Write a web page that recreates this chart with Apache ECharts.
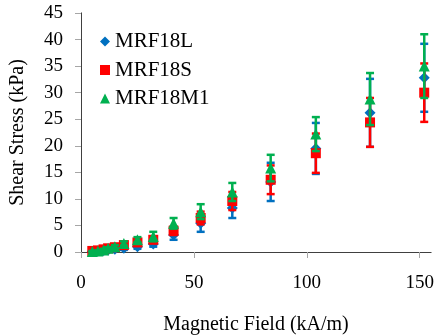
<!DOCTYPE html>
<html>
<head>
<meta charset="utf-8">
<script src="https://cdn.jsdelivr.net/npm/echarts@6/dist/echarts.min.js"></script>
<style>html,body{margin:0;padding:0;background:#fff}#c{width:434px;height:335px}</style>
</head>
<body>
<div id="c"></div>
<script>
var fieldX = [5, 7.5, 10, 12, 15, 19, 25, 32, 41, 53, 67, 84, 104, 128, 152];
var seriesNames = ['MRF18L', 'MRF18S', 'MRF18M1'];
var stressL = [0.1, 0.2, 0.3, 0.4, 0.5, 0.7, 1.0, 1.5, 3.2, 5.4, 8.3, 13.2, 19.5, 26.2, 32.8];
var errL    = [0.1, 0.1, 0.1, 0.2, 0.2, 0.3, 0.4, 0.5, 0.9, 1.6, 1.9, 3.6, 4.8, 6.4, 6.4];
var stressS = [0.2, 0.3, 0.5, 0.7, 0.9, 1.3, 1.8, 2.3, 4.0, 6.4, 9.6, 13.6, 18.6, 24.4, 30.0];
var errS    = [0.1, 0.1, 0.2, 0.2, 0.3, 0.4, 0.5, 0.6, 0.8, 1.2, 1.7, 2.7, 3.7, 4.6, 5.5];
var stressM = [0.1, 0.2, 0.4, 0.7, 1.0, 1.6, 2.3, 2.9, 5.4, 7.6, 11.3, 15.8, 22.2, 28.8, 35.0];
var errM    = [0.1, 0.1, 0.2, 0.2, 0.3, 0.4, 0.5, 0.9, 1.0, 1.4, 1.7, 2.5, 3.2, 4.9, 6.0];
var xTicks = [0, 50, 100, 150];

var colors = ['#0070C0', '#FF0000', '#00B050'];
var symbols = ['diamond', 'rect', 'triangle'];
var symSizes = [11, 10, 11];
var ys = [stressL, stressS, stressM];
var errs = [errL, errS, errM];
var FONT = 'Liberation Serif';

function pts(y) { return fieldX.map(function (x, i) { return [x, y[i]]; }); }
function errPts(y, e) { return fieldX.map(function (x, i) { return [x, y[i], e[i]]; }); }

function errRender(color) {
  return function (params, api) {
    var x = api.value(0), y = api.value(1), e = api.value(2);
    var hi = api.coord([x, y + e]);
    var lo = api.coord([x, y - e]);
    var w = 4;
    var st = { stroke: color, lineWidth: 2.5 };
    return {
      type: 'group',
      children: [
        { type: 'line', shape: { x1: hi[0], y1: hi[1], x2: lo[0], y2: lo[1] }, style: st },
        { type: 'line', shape: { x1: hi[0] - w, y1: hi[1], x2: hi[0] + w, y2: hi[1] }, style: st },
        { type: 'line', shape: { x1: lo[0] - w, y1: lo[1], x2: lo[0] + w, y2: lo[1] }, style: st }
      ]
    };
  };
}

var series = [];
for (var k = 0; k < 3; k++) {
  series.push({
    type: 'custom', name: seriesNames[k] + '_err', renderItem: errRender(colors[k]),
    data: errPts(ys[k], errs[k]), silent: true, z: 2 + k * 2, clip: false,
    encode: { x: 0, y: [1] }
  });
  series.push({
    type: 'scatter', name: seriesNames[k], data: pts(ys[k]),
    symbol: symbols[k], symbolSize: symSizes[k],
    itemStyle: { color: colors[k], opacity: 1 }, z: 3 + k * 2
  });
}

var chart = echarts.init(document.getElementById('c'), null, { renderer: 'canvas' });
chart.setOption({
  animation: false,
  backgroundColor: '#fff',
  grid: { left: 81, right: 3, top: 13, bottom: 83, containLabel: false, outerBoundsMode: 'none' },
  legend: {
    data: seriesNames.map(function (n, i) { return { name: n, icon: i === 0 ? 'diamond' : (i === 1 ? 'rect' : 'triangle') }; }),
    orient: 'vertical', left: 100, top: 31, padding: 0, itemWidth: 10, itemHeight: 10, itemGap: 7.5,
    textStyle: { fontFamily: FONT, fontSize: 21, color: '#000' }
  },
  xAxis: [{
    type: 'value', min: 0, max: 155, interval: 50,
    name: 'Magnetic Field (kA/m)', nameLocation: 'middle', nameGap: 63,
    nameTextStyle: { fontFamily: FONT, fontSize: 20, color: '#000' },
    axisLine: { show: true, onZero: false, lineStyle: { color: '#A6A6A6', width: 1 } },
    axisTick: { show: true, length: 6, customValues: xTicks, lineStyle: { color: '#A6A6A6' } },
    axisLabel: { customValues: xTicks, margin: 22, fontFamily: FONT, fontSize: 19, color: '#000' },
    splitLine: { show: false }
  }, {
    type: 'value', position: 'top', min: 0, max: 155,
    axisLine: { show: true, lineStyle: { color: '#404040', width: 1 } },
    axisTick: { show: false }, axisLabel: { show: false }, splitLine: { show: false }
  }],
  yAxis: [{
    type: 'value', min: 0, max: 45, interval: 5,
    name: 'Shear Stress (kPa)', nameLocation: 'middle', nameGap: 53,
    nameTextStyle: { fontFamily: FONT, fontSize: 20, color: '#000' },
    axisLine: { show: true, onZero: false, lineStyle: { color: '#A6A6A6', width: 1 } },
    axisTick: { show: true, length: 6, lineStyle: { color: '#A6A6A6' } },
    axisLabel: { margin: 18, fontFamily: FONT, fontSize: 19, color: '#000' },
    splitLine: { show: false }
  }, {
    type: 'value', position: 'right', min: 0, max: 45,
    axisLine: { show: true, lineStyle: { color: '#404040', width: 1 } },
    axisTick: { show: false }, axisLabel: { show: false }, splitLine: { show: false }
  }],
  series: series
});
</script>
</body>
</html>
